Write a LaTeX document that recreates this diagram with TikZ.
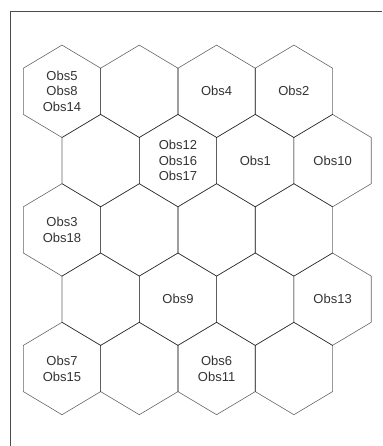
\documentclass[tikz,border=0pt]{standalone}
\usepackage{fontspec}
\setmainfont{Liberation Sans}
\begin{document}
\begin{tikzpicture}[x=1pt,y=-1pt,
  hexline/.style={draw=black,draw opacity=0.6,line width=0.6pt,line join=miter},
  framel/.style={draw=black!70,line width=0.9pt},
  lab/.style={align=center,text=black!80,inner sep=0pt,font=\fontsize{13}{15.7}\selectfont}]
\useasboundingbox (0,0) rectangle (382,446);
\coordinate (fbl) at (10,446);
\coordinate (ftl) at (10,11);
\coordinate (ftr) at (382,11);
\draw[framel] (fbl) -- (ftl) -- (ftr);
% hexagons
\def\hw{38.65}
\def\hr{46.2}
\def\hh{23.1}
\foreach \cy [count=\r] in {91.3,160.6,229.9,299.2,368.5}{
  \pgfmathsetmacro{\off}{mod(\r,2)==0 ? 38.65 : 0}
  \foreach \cx in {62,139.3,216.6,293.9}{
    \pgfmathsetmacro{\xx}{\cx+\off}
    \draw[hexline] (\xx,\cy-\hr) -- (\xx+\hw,\cy-\hh) -- (\xx+\hw,\cy+\hh)
      -- (\xx,\cy+\hr) -- (\xx-\hw,\cy+\hh) -- (\xx-\hw,\cy-\hh) -- cycle;
  }
}
% labels
\node[lab] (h11) at (62,91.3) {Obs5\\Obs8\\Obs14};
\node[lab] (h13) at (216.6,91.3) {Obs4};
\node[lab] (h14) at (293.9,91.3) {Obs2};
\node[lab] (h22) at (178,160.6) {Obs12\\Obs16\\Obs17};
\node[lab] (h23) at (255.3,160.6) {Obs1};
\node[lab] (h24) at (332.6,160.6) {Obs10};
\node[lab] (h31) at (62,229.9) {Obs3\\Obs18};
\node[lab] (h42) at (178,299.2) {Obs9};
\node[lab] (h44) at (332.6,299.2) {Obs13};
\node[lab] (h51) at (62,368.5) {Obs7\\Obs15};
\node[lab] (h53) at (216.6,368.5) {Obs6\\Obs11};
\end{tikzpicture}
\end{document}
